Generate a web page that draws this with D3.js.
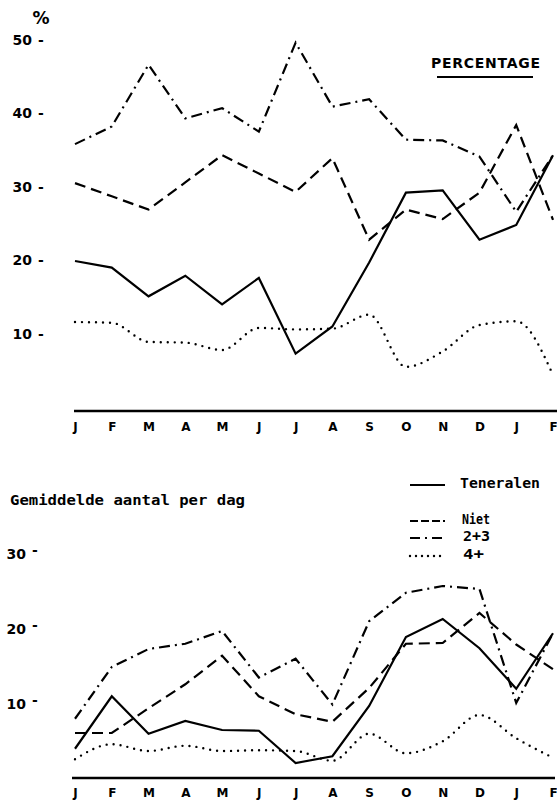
<!DOCTYPE html>
<html>
<head>
<meta charset="utf-8">
<script src="https://cdn.jsdelivr.net/npm/d3@7"></script>
<style>
  html, body { margin: 0; padding: 0; background: #fff; }
  svg { display: block; }
  text { fill: #000; }
</style>
</head>
<body>
<svg id="chart" width="557" height="801"></svg>
<script>
// Month labels (Jan .. Feb of the following year)
const months = ["J","F","M","A","M","J","J","A","S","O","N","D","J","F"];

// Upper panel: percentage per group
const pctTeneralen = [19.8,18.9,15.0,17.8,13.9,17.5,7.2,10.9,19.6,29.1,29.4,22.7,24.7,34.2];
const pctNiet      = [30.4,28.6,26.8,30.5,34.2,31.7,29.2,33.8,22.7,26.8,25.5,29.1,38.3,25.4];
const pct23        = [35.7,38.1,46.5,39.2,40.6,37.4,49.5,40.8,41.8,36.3,36.2,34.0,26.5,34.2];
const pct4plus     = [11.5,11.4,8.8,8.7,7.7,10.7,10.5,10.6,12.5,5.4,7.5,11.1,11.6,4.3];

// Lower panel: mean number per day
const dayTeneralen = [3.9,10.9,5.9,7.6,6.4,6.3,2.0,2.9,9.6,18.8,21.2,17.3,11.9,19.3];
const dayNiet      = [6.0,6.0,9.3,12.5,16.3,10.9,8.5,7.5,12.0,17.9,18.0,22.0,17.8,14.5];
const day23        = [7.9,14.8,17.2,17.9,19.6,13.4,15.9,9.8,20.9,24.7,25.6,25.2,10.0,19.3];
const day4plus     = [2.5,4.5,3.6,4.3,3.6,3.7,3.6,2.3,5.9,3.3,4.9,8.4,5.3,2.7];

const topTicks = [10,20,30,40,50];
const bottomTicks = [10,20,30];
const seriesNames = ["Teneralen","Niet","2+3","4+"];

// Line styles per series
const styles = {
  "Teneralen": { dash: null, cap: "butt", width: 2.2, curve: d3.curveLinear },
  "Niet":      { dash: "11,6", cap: "butt", width: 2.2, curve: d3.curveLinear },
  "2+3":       { dash: "11,5,2,5", cap: "butt", width: 2.2, curve: d3.curveLinear },
  "4+":        { dash: "0,7", cap: "round", width: 2.4, curve: d3.curveMonotoneX }
};

const svg = d3.select("#chart");
const fontBold = "'DejaVu Sans', sans-serif";
const fontMono = "'DejaVu Sans Mono', monospace";

const x = d3.scalePoint().domain(d3.range(months.length)).range([75, 553]);

function drawPanel(cfg) {
  const y = d3.scaleLinear().domain(cfg.domain).range(cfg.range);
  const g = svg.append("g");

  // Baseline
  g.append("line")
    .attr("x1", cfg.baseX[0]).attr("x2", cfg.baseX[1])
    .attr("y1", y.range()[0]).attr("y2", y.range()[0])
    .attr("stroke", "#000").attr("stroke-width", 2.6);

  // Month labels
  const xAxis = d3.axisBottom(x).tickSize(0).tickPadding(0)
    .tickFormat(i => months[i]);
  const xg = g.append("g")
    .attr("transform", `translate(0,${y.range()[0] + cfg.monthOffset})`)
    .call(xAxis);
  xg.select(".domain").remove();
  xg.selectAll("text")
    .attr("font-family", fontBold).attr("font-weight", "bold")
    .attr("font-size", 12).attr("dy", "0.35em").attr("y", 0);

  // Value labels with their small tick dash
  const yAxis = d3.axisLeft(y).tickValues(cfg.ticks).tickSize(0).tickPadding(0)
    .tickFormat(d => d);
  const yg = g.append("g").attr("transform", `translate(${cfg.labelX},0)`).call(yAxis);
  yg.select(".domain").remove();
  yg.selectAll("text")
    .attr("font-family", fontBold).attr("font-weight", "bold")
    .attr("font-size", 14).attr("x", 0).attr("text-anchor", "end")
    .attr("dy", "0.36em");
  yg.selectAll(".tick").append("text")
    .attr("x", cfg.dashGap).attr("dy", cfg.dashDy)
    .attr("text-anchor", "start")
    .attr("font-family", fontBold).attr("font-weight", "bold")
    .attr("font-size", 14).attr("fill", "#000")
    .text("-");

  // Series
  const line = d3.line().x((d, i) => x(i)).y(d => y(d));
  cfg.series.forEach((vals, k) => {
    const st = styles[seriesNames[k]];
    g.append("path")
      .datum(vals)
      .attr("d", line.curve(st.curve))
      .attr("fill", "none")
      .attr("stroke", "#000")
      .attr("stroke-width", st.width)
      .attr("stroke-linecap", st.cap)
      .attr("stroke-linejoin", "miter")
      .attr("stroke-dasharray", st.dash);
  });
  return y;
}

drawPanel({
  domain: [-0.6, 50], range: [411, 39],
  baseX: [74, 557], monthOffset: 16,
  ticks: topTicks, labelX: 32, dashGap: 6, dashDy: "0.36em",
  series: [pctTeneralen, pctNiet, pct23, pct4plus]
});

drawPanel({
  domain: [0, 30], range: [778, 553],
  baseX: [72, 555], monthOffset: 15,
  ticks: bottomTicks, labelX: 26, dashGap: 6, dashDy: "0.1em",
  series: [dayTeneralen, dayNiet, day23, day4plus]
});

// Upper panel unit and heading
svg.append("text").attr("x", 41).attr("y", 18).attr("text-anchor", "middle")
  .attr("dy", "0.35em").attr("font-family", fontBold).attr("font-size", 17)
  .attr("font-weight", "bold").text("%");

svg.append("text").attr("x", 431).attr("y", 63).attr("dy", "0.36em")
  .attr("font-family", fontBold).attr("font-weight", "bold").attr("font-size", 14)
  .attr("textLength", 109).attr("lengthAdjust", "spacing")
  .text("PERCENTAGE");
svg.append("line").attr("x1", 437).attr("x2", 533).attr("y1", 77).attr("y2", 77)
  .attr("stroke", "#000").attr("stroke-width", 2);

// Lower panel heading
svg.append("text").attr("x", 10).attr("y", 500).attr("dy", "0.36em")
  .attr("font-family", fontMono).attr("font-weight", "bold").attr("font-size", 14)
  .attr("textLength", 235).attr("lengthAdjust", "spacingAndGlyphs")
  .text("Gemiddelde aantal per dag");

// Legend
const legendRows = [
  { name: "Teneralen", y: 483, tx: 460, tw: 80 },
  { name: "Niet",      y: 519, tx: 462, tw: 28 },
  { name: "2+3",       y: 536, tx: 463, tw: 27 },
  { name: "4+",        y: 554, tx: 463, tw: 21 }
];
const legendDash = { "Teneralen": null, "Niet": "8,3", "2+3": "10,5,2,5", "4+": "0,6" };
const lg = svg.append("g");
legendRows.forEach(r => {
  const st = styles[r.name];
  lg.append("line").attr("x1", 410).attr("x2", 445)
    .attr("y1", r.y + 2).attr("y2", r.y + 2)
    .attr("stroke", "#000").attr("stroke-width", st.width)
    .attr("stroke-linecap", st.cap)
    .attr("stroke-dasharray", legendDash[r.name]);
  lg.append("text").attr("x", r.tx).attr("y", r.y).attr("dy", "0.36em")
    .attr("font-family", fontMono).attr("font-weight", "bold").attr("font-size", 14)
    .attr("textLength", r.tw).attr("lengthAdjust", "spacingAndGlyphs")
    .text(r.name);
});
</script>
</body>
</html>
